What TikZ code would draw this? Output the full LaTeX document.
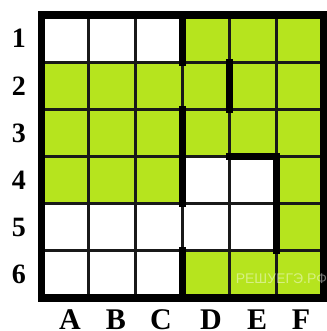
\documentclass[tikz,border=0pt]{standalone}
\usepackage{fontspec}
\setmainfont{Liberation Serif}
\newfontfamily\wmfont{Liberation Sans}
\definecolor{cellgreen}{RGB}{182,228,30}
\tikzset{
  greencell/.style={fill=cellgreen},
  thinline/.style={line width=3.2pt, black!90},
  wall/.style={line width=7pt, black, line cap=rect},
  frameline/.style={line width=7.5pt, black},
  rowlbl/.style={font=\bfseries\fontsize{28}{28}\selectfont, inner sep=0pt},
  collbl/.style={font=\bfseries\fontsize{30}{30}\selectfont, inner sep=0pt, anchor=base},
  watermark/.style={font=\wmfont\fontsize{14}{14}\selectfont, text=white, text opacity=0.45, inner sep=0pt}
}
\begin{document}
\begin{tikzpicture}[x=1pt, y=-1pt]
\useasboundingbox (0,0) rectangle (326,331);
\fill[white] (0,0) rectangle (326,331);
\begin{scope}[shift={(41.5,15)}, x=47pt, y=-47.17pt]
  % green cells
  \foreach \c/\r in {3/0,4/0,5/0,
                     0/1,1/1,2/1,3/1,4/1,5/1,
                     0/2,1/2,2/2,3/2,4/2,5/2,
                     0/3,1/3,2/3,5/3,
                     5/4,
                     3/5,4/5,5/5}
    \fill[greencell] (\c,\r) rectangle ++(1,1);
  % thin grid
  \foreach \i in {1,...,5} {
    \draw[thinline] (\i,0) -- (\i,6);
    \draw[thinline] (0,\i) -- (6,\i);
  }
  % thick walls
  \draw[wall] (3,0) -- (3,1);
  \draw[wall] (3,2) -- (3,4);
  \draw[wall] (3,5) -- (3,6);
  \draw[wall] (4,1) -- (4,2);
  \draw[wall] (4,3) -- (5,3) -- (5,5);
  % frame
  \draw[frameline] (0,0) rectangle (6,6);
  % watermark
  \node[watermark, anchor=west] (wm) at (4.13,5.6) {РЕШУЕГЭ.РФ};
  % row labels
  \foreach \n [count=\k from 0] in {1,...,6}
    \node[rowlbl] (row\n) at (-0.48,\k+0.5) {\n};
\end{scope}
% column labels
\foreach \L/\x in {A/70,B/116,C/161,D/211,E/257,F/301}
  \node[collbl] (col\L) at (\x,329) {\L};
\end{tikzpicture}
\end{document}
